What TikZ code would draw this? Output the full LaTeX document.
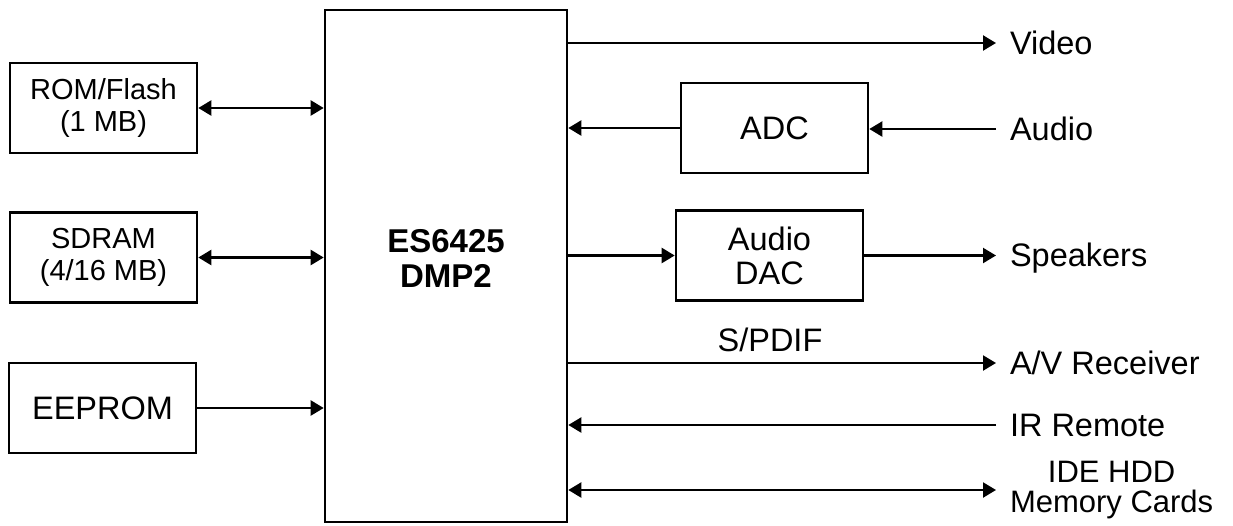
\documentclass[tikz,border=0pt]{standalone}
\usepackage{fontspec}
\setmainfont{Liberation Sans}
\usetikzlibrary{arrows.meta}

\begin{document}
\begin{tikzpicture}[x=1pt,y=-1pt,
    blk/.style={draw,line width=2.6pt,inner sep=0pt,align=center,
        minimum width=187pt,minimum height=90pt},
    lbl/.style={anchor=west,inner sep=0pt,outer sep=14pt},
    arr/.style={line width=2.2pt,-{Triangle[length=13pt,width=15pt]}},
    dbl/.style={line width=2.2pt,{Triangle[length=13pt,width=15pt]}-{Triangle[length=13pt,width=15pt]}},
    big/.style={font=\fontsize{32.5}{34}\selectfont},
    small/.style={font=\fontsize{29}{32}\selectfont}]
    %initialisation
    \useasboundingbox (0,0) rectangle (1233,525);
    %definitions
    \node[blk,minimum width=242pt,minimum height=512pt] (dmp) at (446,266) {};
    \node[align=center,font=\bfseries\fontsize{33}{35}\selectfont] (chip) at (446,258) {ES6425\\DMP2};
    \node[blk,small] (rom) at (103.5,108) {ROM/Flash\\(1 MB)};
    \node[blk,small] (sdram) at (103.5,257.5) {SDRAM\\(4/16 MB)};
    \node[blk,big] (eeprom) at (102.5,408) {EEPROM};
    \node[blk,big] (adc) at (774.5,128) {ADC};
    \node[blk,big] (dac) at (769.5,255.5) {Audio\\DAC};
    %label
    \node[lbl,big] (video) at (996,43) {Video};
    \node[lbl,big] (audio) at (996,129) {Audio};
    \node[lbl,big] (spk) at (996,258) {Speakers};
    \node[lbl,big] (avr) at (996,363) {A/V Receiver};
    \node[lbl,big] (ir) at (996,425) {IR Remote};
    \node[lbl,align=center,font=\fontsize{31}{30}\selectfont] (ide) at (996,490) {IDE HDD\\Memory Cards};
    \node[big] (spdif) at (770,340) {S/PDIF};
    %drawing
    \draw[dbl] (rom) -- (rom -| dmp.west);
    \draw[dbl] (sdram) -- (sdram -| dmp.west);
    \draw[arr] (eeprom) -- (eeprom -| dmp.west);
    \draw[arr] (dmp.east |- video) -- (video);
    \draw[arr] (adc) -- (adc -| dmp.east);
    \draw[arr] (audio) -- (audio -| adc.east);
    \draw[arr] (dac -| dmp.east) -- (dac);
    \draw[arr] (dac) -- (dac -| spk.west);
    \draw[arr] (dmp.east |- avr) -- (avr);
    \draw[arr] (ir) -- (ir -| dmp.east);
    \draw[dbl] (dmp.east |- ide) -- (ide);
\end{tikzpicture}
\end{document}
